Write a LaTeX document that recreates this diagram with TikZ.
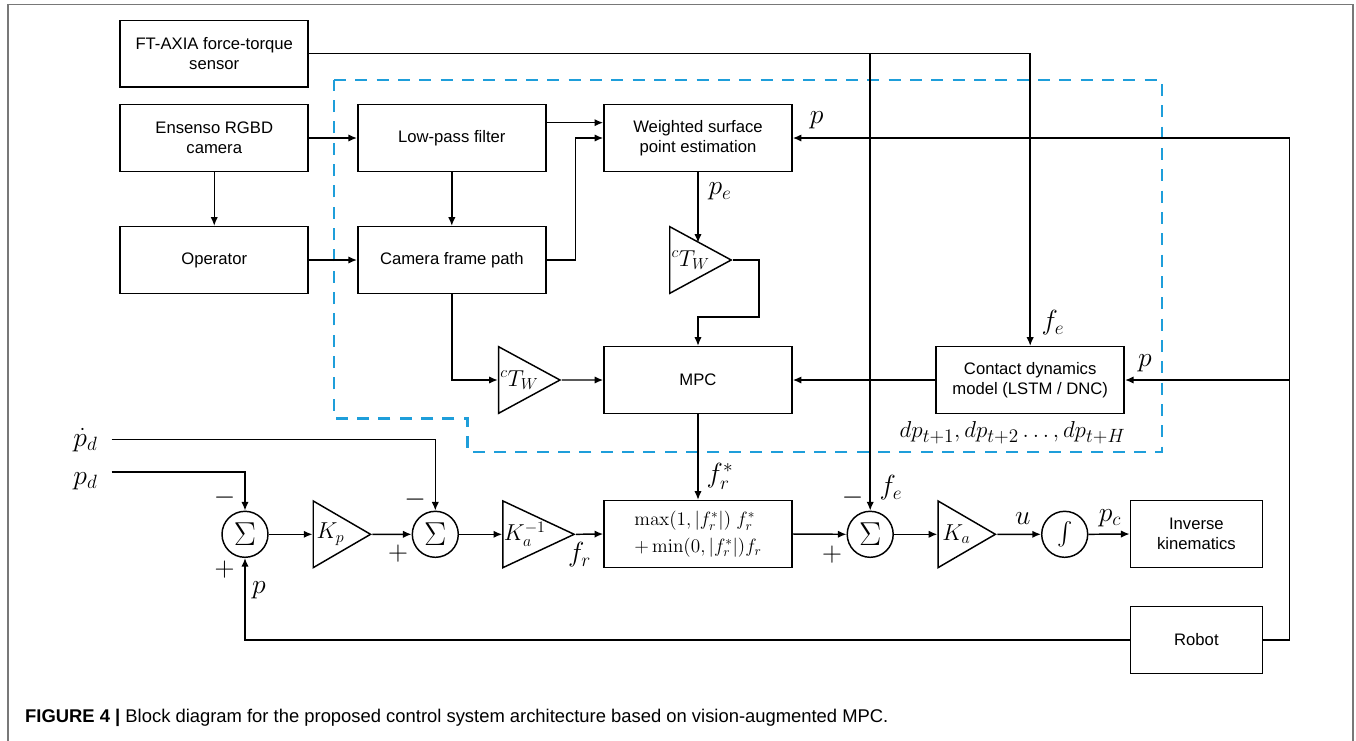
\documentclass[tikz,border=0pt]{standalone}
\usepackage{amsmath}
\usepackage[no-math]{fontspec}
\setmainfont{Liberation Sans}
\usetikzlibrary{arrows.meta,shapes.geometric}
\definecolor{dashblue}{RGB}{30,158,218}
\definecolor{framegray}{RGB}{120,120,120}
\begin{document}
\begin{tikzpicture}[
            x=0.75pt, y=-0.75pt,
            line width=1.1pt,
            >={Latex[length=6.5pt,width=5.5pt]},
            block/.style={
                rectangle, draw, line width=1.2pt, minimum width=141pt, minimum height=50pt,
                align=center, font=\fontsize{12.5}{15}\selectfont
            },
            smallblock/.style={block, minimum width=99pt},
            gain/.style={
                isosceles triangle, isosceles triangle stretches, draw, minimum width=50pt,
                minimum height=43pt, inner sep=0pt, anchor=west, font=\fontsize{18}{20}\selectfont
            },
            sumnode/.style={circle, draw, minimum size=34.5pt, inner sep=0pt, font=\fontsize{25}{25}\selectfont},
            sig/.style={inner sep=0pt, font=\fontsize{20}{22}\selectfont},
            sgn/.style={inner sep=0pt, font=\fontsize{22}{22}\selectfont}
        ]
        \useasboundingbox (0,0) rectangle (1356,740);
        \draw[framegray, line width=1.1pt] (8,745) |- (1353,4.7) -- (1353,745);

        \draw[dashblue, line width=2.2pt, dash pattern=on 9pt off 7pt]
            (334,80) -- (1162,80) -- (1162,452) -- (467.4,452) -- (467.4,418.3) -- (334,418.3) -- cycle;

        \node[block] (ft) at (214.25,53.7) {FT-AXIA force-torque\\sensor};
        \node[block] (cam) at (214.25,138) {Ensenso RGBD\\camera};
        \node[block] (oper) at (214.25,260) {Operator};
        \node[block] (lpf) at (451.8,138) {Low-pass filter};
        \node[block] (cfp) at (451.8,260) {Camera frame path};
        \node[block] (wspe) at (698,138) {Weighted surface\\point estimation};
        \node[block] (mpc) at (698,380) {MPC};
        \node[block] (cdm) at (1030.2,380) {Contact dynamics\\model (LSTM / DNC)};
        \node[block, font=\fontsize{14}{20}\selectfont, align=left] (maxb) at (698,534)
            {$\max(1,|f_r^*|)\;f_r^*$\\$+\min(0,|f_r^*|)f_r$};
        \node[smallblock] (ik) at (1196.4,534) {Inverse\\kinematics};
        \node[smallblock] (robot) at (1196.4,640) {Robot};

        \node[gain] (tw1) at (669,260) {$^{c}T_{W}$};
        \node[gain] (tw2) at (497.8,380) {$^{c}T_{W}$};
        \node[gain] (kp) at (312.5,534.3) {$K_p$};
        \node[gain] (kainv) at (502.2,534.3) {$K_a^{-1}$};
        \node[gain] (ka) at (937.3,534.3) {$K_a$};

        \node[sumnode] (s1) at (245,534.3) {$\Sigma$};
        \node[sumnode] (s2) at (435.3,534.3) {$\Sigma$};
        \node[sumnode] (s3) at (870.2,534.3) {$\Sigma$};
        \node[sumnode, font=\fontsize{18}{18}\selectfont] (integ) at (1064.7,534.3) {$\int$};

        \coordinate (pdin) at (111.6,472);
        \coordinate (pddin) at (111.6,439.3);
        \coordinate (rt) at (1288.5,380);

        \draw[->] (ft.east) -| (cdm.north);
        \draw[->] (ft.east -| s3) -- (s3.north);
        \draw[->] (cam.east) -- (lpf.west);
        \draw[->] (cam.south) -- (oper.north);
        \draw[->] (oper.east) -- (cfp.west);
        \draw[->] (lpf.south) -- (cfp.north);
        \draw[->] ([yshift=11.5pt]lpf.east) -- ([yshift=11.5pt]wspe.west);
        \draw[->] (cfp.east) -- ++(29,0) |- (wspe.west);
        \draw[->] (wspe.south) -- (wspe.south |- tw1.left side);
        \draw[->] (tw1.apex) -| ++(26,57) -| (mpc.north);
        \draw[->] (cfp.south) |- (tw2.west);
        \draw[->] (tw2.apex) -- (mpc.west);
        \draw[->] (cdm.west) -- (mpc.east);
        \draw[->] (robot.east) -- ++(26.2,0) |- (wspe.east);
        \draw[->] (rt) -- (cdm.east);
        \draw[->] (robot.west) -| (s1.south);
        \draw[->] (pdin) -| (s1.north);
        \draw[->] (pddin) -| (s2.north);
        \draw[->] (s1.east) -- (kp.west);
        \draw[->] (kp.apex) -- (s2.west);
        \draw[->] (s2.east) -- (kainv.west);
        \draw[->] (kainv.apex) -- (maxb.west);
        \draw[->] (mpc.south) -- (maxb.north);
        \draw[->] (maxb.east) -- (s3.west);
        \draw[->] (s3.east) -- (ka.west);
        \draw[->] (ka.apex) -- (integ.west);
        \draw[->] (integ.east) -- (ik.west);

        \node[sig] (lblp1) at (816.6,120) {$p$};
        \node[sig] (lblpe) at (720,191.7) {$p_e$};
        \node[sig] (lblfe1) at (1053,323) {$f_e$};
        \node[sig] (lblp2) at (1145,363) {$p$};
        \node[sig, font=\fontsize{19}{22}\selectfont] (lbldp) at (1012.5,433) {$dp_{t+1}, dp_{t+2}\ldots, dp_{t+H}$};
        \node[sig] (lblfrs) at (720,476.7) {$f_r^*$};
        \node[sig] (lblfe2) at (891,488) {$f_e$};
        \node[sig] (lblpdd) at (85.5,440) {$\dot{p}_d$};
        \node[sig] (lblpd) at (85.5,481) {$p_d$};
        \node[sig] (lblp3) at (259,590) {$p$};
        \node[sig] (lblfr) at (579.5,555) {$f_r$};
        \node[sig] (lblu) at (1022.8,518.3) {$u$};
        \node[sig] (lblpc) at (1110,518) {$p_c$};
        \node[sgn] (m1) at (224.6,497.7) {$-$};
        \node[sgn] (pl1) at (224.6,570) {$+$};
        \node[sgn] (m2) at (415,500) {$-$};
        \node[sgn] (pl2) at (398,554) {$+$};
        \node[sgn] (m3) at (852.6,497.7) {$-$};
        \node[sgn] (pl3) at (832,555) {$+$};

        \node[anchor=west, inner sep=0pt, font=\fontsize{13.8}{16}\selectfont] (caption) at (24.5,718)
            {\textbf{FIGURE 4 |} Block diagram for the proposed control system architecture based on vision-augmented MPC.};
    \end{tikzpicture}
\end{document}
